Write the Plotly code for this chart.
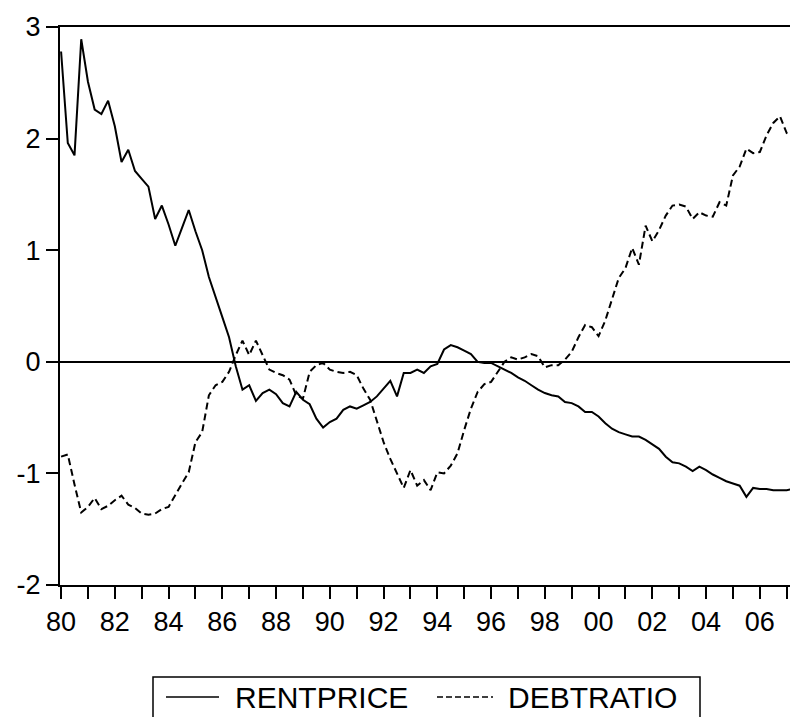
import plotly.graph_objects as go

# quarterly observations 1980Q1 .. 2007Q2
start_year = 1980
rentprice = [
    2.78, 1.96, 1.85, 2.89, 2.51, 2.26, 2.22, 2.34, 2.11, 1.79,
    1.90, 1.71, 1.64, 1.57, 1.28, 1.40, 1.23, 1.04, 1.20, 1.36,
    1.17, 1.00, 0.76, 0.57, 0.40, 0.22, -0.04, -0.25, -0.21, -0.35,
    -0.28, -0.25, -0.29, -0.37, -0.40, -0.27, -0.34, -0.38, -0.51, -0.59,
    -0.54, -0.51, -0.43, -0.40, -0.42, -0.39, -0.36, -0.31, -0.24, -0.17,
    -0.31, -0.10, -0.10, -0.07, -0.10, -0.04, -0.02, 0.11, 0.15, 0.13,
    0.10, 0.07, 0.00, -0.01, -0.01, -0.04, -0.07, -0.10, -0.14, -0.17,
    -0.21, -0.25, -0.28, -0.30, -0.31, -0.36, -0.37, -0.40, -0.45, -0.45,
    -0.49, -0.55, -0.60, -0.63, -0.65, -0.67, -0.67, -0.70, -0.74, -0.78,
    -0.85, -0.90, -0.91, -0.94, -0.98, -0.94, -0.97, -1.01, -1.04, -1.07,
    -1.09, -1.11, -1.21, -1.13, -1.14, -1.14, -1.15, -1.15, -1.15, -1.14,
]
debtratio = [
    -0.85, -0.83, -1.10, -1.35, -1.30, -1.22, -1.32, -1.29, -1.24, -1.20,
    -1.28, -1.31, -1.36, -1.37, -1.36, -1.32, -1.30, -1.19, -1.09, -0.99,
    -0.72, -0.63, -0.30, -0.21, -0.18, -0.09, 0.06, 0.19, 0.06, 0.19,
    0.06, -0.07, -0.10, -0.12, -0.16, -0.30, -0.33, -0.09, -0.03, -0.01,
    -0.07, -0.09, -0.10, -0.09, -0.12, -0.24, -0.34, -0.52, -0.72, -0.87,
    -1.00, -1.13, -0.97, -1.11, -1.06, -1.15, -0.99, -1.00, -0.93, -0.82,
    -0.61, -0.42, -0.27, -0.20, -0.18, -0.09, 0.00, 0.04, 0.02, 0.04,
    0.07, 0.05, -0.05, -0.03, -0.03, 0.02, 0.09, 0.22, 0.33, 0.31,
    0.23, 0.37, 0.55, 0.75, 0.84, 1.02, 0.87, 1.22, 1.08, 1.18,
    1.31, 1.40, 1.41, 1.39, 1.28, 1.34, 1.31, 1.30, 1.43, 1.40,
    1.67, 1.75, 1.91, 1.87, 1.88, 2.03, 2.14, 2.20, 2.05, 2.02,
]
series_names = ["RENTPRICE", "DEBTRATIO"]
tick_years = list(range(1980, 2008))
tick_labels = [f"{y % 100:02d}" if y % 2 == 0 else "" for y in tick_years]
y_ticks = [-2, -1, 0, 1, 2, 3]
y_tick_labels = ["-2", "-1", "0", "1", "2", "3"]

x = [start_year + i / 4 for i in range(len(rentprice))]

FONT = "Liberation Sans, Arial, sans-serif"

# page body has an 8px margin -> figure sized to fill the rest of the window
W, H = 790, 709
ML, MT = 52, 19
PW, PH = 738, 558


def px(vx):  # viewport x -> paper x
    return (vx - 60) / PW


def py(vy):  # viewport y -> paper y
    return (585 - vy) / PH


fig = go.Figure()
fig.add_trace(go.Scatter(x=x, y=rentprice, mode="lines", name=series_names[0],
                         line=dict(color="black", width=2), showlegend=False))
fig.add_trace(go.Scatter(x=x, y=debtratio, mode="lines", name=series_names[1],
                         line=dict(color="black", width=2, dash="7px,4px"),
                         showlegend=False))

# legend drawn by hand (box, line samples, labels)
shapes = [
    dict(type="rect", xref="paper", yref="paper", x0=px(153), x1=px(700),
         y0=py(740), y1=py(677), line=dict(color="black", width=1.5),
         fillcolor="white", layer="above"),
    dict(type="line", xref="paper", yref="paper", x0=px(166), x1=px(219),
         y0=py(697), y1=py(697), line=dict(color="black", width=1.5)),
    dict(type="line", xref="paper", yref="paper", x0=px(437), x1=px(493),
         y0=py(697), y1=py(697), line=dict(color="black", width=1.5, dash="6px,3px")),
]
annotations = [
    dict(xref="paper", yref="paper", x=px(233), y=py(697), xanchor="left",
         yanchor="middle", text=series_names[0], showarrow=False,
         font=dict(size=30, family=FONT, color="black")),
    dict(xref="paper", yref="paper", x=px(506), y=py(697), xanchor="left",
         yanchor="middle", text=series_names[1], showarrow=False,
         font=dict(size=30, family=FONT, color="black")),
]

fig.update_layout(
    width=W, height=H,
    margin=dict(l=ML, r=W - ML - PW, t=MT, b=H - MT - PH, autoexpand=False),
    paper_bgcolor="white", plot_bgcolor="white",
    font=dict(family=FONT, color="black", size=27),
    showlegend=False,
    shapes=shapes, annotations=annotations,
    xaxis=dict(range=[1979.96, 2007.42], tickmode="array", tickvals=tick_years,
               ticktext=tick_labels, ticks="outside", ticklen=12, tickwidth=2,
               tickcolor="black", showline=True, linecolor="black", linewidth=2,
               mirror=True, showgrid=False, zeroline=False,
               tickfont=dict(size=27)),
    yaxis=dict(range=[-2, 3], tickmode="array", tickvals=y_ticks,
               ticktext=y_tick_labels,
               ticks="outside", ticklen=12, tickwidth=2, tickcolor="black",
               showline=True, linecolor="black", linewidth=2, showgrid=False,
               zeroline=True, zerolinecolor="black", zerolinewidth=1.5,
               tickfont=dict(size=27)),
)

fig.write_html("out.html")
